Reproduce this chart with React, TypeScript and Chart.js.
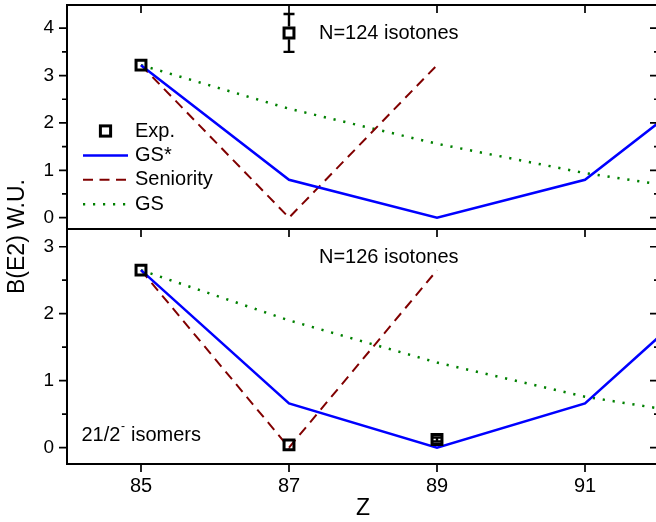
import React, { useEffect, useRef } from 'react';
import { Chart, registerables } from 'chart.js';

Chart.register(...registerables);

const FONT = '"Liberation Sans", Arial, Helvetica, sans-serif';

// ---------------- data ----------------
const X_MIN = 84;
const X_MAX = 92;
const X_TICKS = [85, 87, 89, 91];

const TOP_Y_MIN = -0.24;
const TOP_Y_MAX = 4.49;
const TOP_Y_TICKS = [0, 1, 2, 3, 4];
const TOP_Y_MINOR = [0.5, 1.5, 2.5, 3.5];

const BOT_Y_MIN = -0.245;
const BOT_Y_MAX = 3.265;
const BOT_Y_TICKS = [0, 1, 2, 3];
const BOT_Y_MINOR = [0.5, 1.5, 2.5];

const Z_MODEL = [85, 87, 89, 91, 93];
const Z_SENIORITY = [85, 87, 89];

// N=124 isotones
const N124_EXP_Z = [85, 87];
const N124_EXP = [3.22, 3.9];
const N124_EXP_ERR = [0, 0.4];
const N124_GS_STAR = [3.22, 0.8, 0.0, 0.8, 3.22];
const N124_SENIORITY = [3.22, 0.0, 3.22];
const N124_GS = [3.22, 2.3, 1.56, 0.94, 0.47];

// N=126 isotones
const N126_EXP_Z = [85, 87, 89];
const N126_EXP = [2.65, 0.04, 0.12];
const N126_EXP_ERR = [0, 0, 0.03];
const N126_GS_STAR = [2.65, 0.66, 0.0, 0.66, 2.65];
const N126_SENIORITY = [2.65, 0.0, 2.65];
const N126_GS = [2.65, 1.9, 1.27, 0.76, 0.41];

const LEGEND_LABELS = ['Exp.', 'GS*', 'Seniority', 'GS'];
const TOP_NOTE = 'N=124 isotones';
const BOT_NOTE = 'N=126 isotones';
const ISOMER_NOTE = ['21/2', '-', 'isomers'];
const Y_TITLE = 'B(E2) W.U.';
const X_TITLE = 'Z';

// ---------------- styles ----------------
const BLUE = '#0000ff';
const WINE = '#800000';
const GREEN = '#008000';
const LINE_STYLES = [
  { color: BLUE, width: 2.5, dash: [] as number[] },
  { color: WINE, width: 2, dash: [10, 6.5] },
  { color: GREEN, width: 2.5, dash: [2.2, 7.8] },
];

const CANVAS_W = 670;
const CANVAS_H = 522;
const SPLIT_Y = 229;

function pts(xs: number[], ys: number[]) {
  return xs.map((x, i) => ({ x, y: ys[i] }));
}

function makeDatasets(expZ: number[], exp: number[], gsStar: number[], sen: number[], gs: number[]) {
  const lines = [
    { label: 'GS*', data: pts(Z_MODEL, gsStar) },
    { label: 'Seniority', data: pts(Z_SENIORITY, sen) },
    { label: 'GS', data: pts(Z_MODEL, gs) },
  ].map((d, i) => ({
    ...d,
    showLine: true,
    borderColor: LINE_STYLES[i].color,
    borderWidth: LINE_STYLES[i].width,
    borderDash: LINE_STYLES[i].dash,
    borderCapStyle: 'butt',
    borderJoinStyle: 'miter',
    tension: 0,
    pointRadius: 0,
    pointHoverRadius: 0,
    order: i + 1,
  }));
  return [
    {
      label: 'Exp.',
      data: pts(expZ, exp),
      showLine: false,
      pointStyle: 'rect',
      pointRadius: 7,
      pointHoverRadius: 7,
      pointBorderWidth: 3,
      pointBorderColor: '#000',
      pointBackgroundColor: 'rgba(0,0,0,0)',
      order: 0,
    },
    ...lines,
  ];
}

function framePlugin(major: number[], minor: number[], topTicks: boolean, bottomOut: boolean) {
  return {
    id: 'frameTicks',
    afterDatasetsDraw(chart: any) {
      const { ctx, chartArea: a, scales } = chart;
      const xs = scales.x;
      const ys = scales.y;
      ctx.save();
      ctx.strokeStyle = '#000';
      ctx.lineWidth = 2;
      ctx.strokeRect(a.left, a.top, a.right - a.left, a.bottom - a.top);
      ctx.lineWidth = 1.7;
      ctx.beginPath();
      for (const v of major) {
        const p = ys.getPixelForValue(v);
        ctx.moveTo(a.left - 8, p);
        ctx.lineTo(a.left, p);
        ctx.moveTo(a.right, p);
        ctx.lineTo(a.right - 9, p);
      }
      for (const v of minor) {
        const p = ys.getPixelForValue(v);
        ctx.moveTo(a.left - 5, p);
        ctx.lineTo(a.left, p);
        ctx.moveTo(a.right, p);
        ctx.lineTo(a.right - 5, p);
      }
      for (const v of X_TICKS) {
        const p = xs.getPixelForValue(v);
        if (topTicks) {
          ctx.moveTo(p, a.top);
          ctx.lineTo(p, a.top + 8);
        }
        if (bottomOut) {
          ctx.moveTo(p, a.bottom);
          ctx.lineTo(p, a.bottom + 8);
        }
      }
      ctx.stroke();
      ctx.restore();
    },
  };
}

function errorBarPlugin(errs: number[]) {
  return {
    id: 'errorBars',
    afterDatasetsDraw(chart: any) {
      const meta = chart.getDatasetMeta(0);
      const ys = chart.scales.y;
      const data = chart.data.datasets[0].data as { x: number; y: number }[];
      const ctx = chart.ctx;
      const half = 6.4;
      const cap = 5.5;
      ctx.save();
      ctx.strokeStyle = '#000';
      ctx.lineWidth = 2.4;
      ctx.beginPath();
      meta.data.forEach((pt: any, i: number) => {
        const e = errs[i];
        if (!e) return;
        const v = data[i].y;
        const yHi = ys.getPixelForValue(v + e);
        const yLo = ys.getPixelForValue(v - e);
        const cx = pt.x;
        const cy = pt.y;
        if (yLo - yHi > 2 * half) {
          ctx.moveTo(cx, yHi);
          ctx.lineTo(cx, cy - half);
          ctx.moveTo(cx, cy + half);
          ctx.lineTo(cx, yLo);
        } else {
          ctx.moveTo(cx, yHi);
          ctx.lineTo(cx, yLo);
        }
        ctx.moveTo(cx - cap, yHi);
        ctx.lineTo(cx + cap, yHi);
        ctx.moveTo(cx - cap, yLo);
        ctx.lineTo(cx + cap, yLo);
      });
      ctx.stroke();
      ctx.restore();
    },
  };
}

const legendPlugin = {
  id: 'customLegend',
  afterDraw(chart: any) {
    const { ctx, chartArea: a } = chart;
    const x0 = a.left + 16;
    const x1 = a.left + 61;
    const tx = a.left + 68;
    const y0 = a.top + 126;
    const step = 24.4;
    ctx.save();
    ctx.font = `20px ${FONT}`;
    ctx.fillStyle = '#000';
    ctx.textAlign = 'left';
    ctx.textBaseline = 'middle';
    LEGEND_LABELS.forEach((label, i) => {
      const y = y0 + i * step;
      if (i === 0) {
        const mx = (x0 + x1) / 2;
        const s = 5.1;
        ctx.strokeStyle = '#000';
        ctx.lineWidth = 3;
        ctx.setLineDash([]);
        ctx.strokeRect(mx - s, y - s, 2 * s, 2 * s);
      } else {
        const st = LINE_STYLES[i - 1];
        ctx.strokeStyle = st.color;
        ctx.lineWidth = st.width;
        ctx.lineCap = 'butt';
        ctx.setLineDash(st.dash);
        ctx.beginPath();
        ctx.moveTo(x0, y);
        ctx.lineTo(x1, y);
        ctx.stroke();
        ctx.setLineDash([]);
      }
      ctx.fillText(label, tx, y);
    });
    ctx.restore();
  },
};

function notePlugin(text: string, dx: number, dy: number) {
  return {
    id: 'note',
    afterDraw(chart: any) {
      const { ctx, chartArea: a } = chart;
      ctx.save();
      ctx.font = `20px ${FONT}`;
      ctx.fillStyle = '#000';
      ctx.textAlign = 'left';
      ctx.textBaseline = 'middle';
      ctx.fillText(text, a.left + dx, a.top + dy);
      ctx.restore();
    },
  };
}

const isomerPlugin = {
  id: 'isomerNote',
  afterDraw(chart: any) {
    const { ctx, chartArea: a } = chart;
    const x = a.left + 14.5;
    const y = a.top + 206;
    ctx.save();
    ctx.fillStyle = '#000';
    ctx.textAlign = 'left';
    ctx.textBaseline = 'middle';
    ctx.font = `20px ${FONT}`;
    ctx.fillText(ISOMER_NOTE[0], x, y);
    const w1 = ctx.measureText(ISOMER_NOTE[0]).width;
    ctx.font = `12px ${FONT}`;
    ctx.fillText(ISOMER_NOTE[1], x + w1 + 0.5, y - 8);
    ctx.font = `20px ${FONT}`;
    ctx.fillText(ISOMER_NOTE[2], a.left + 64, y);
    ctx.restore();
  },
};

const yTitlePlugin = {
  id: 'yTitle',
  afterDraw(chart: any) {
    const { ctx, chartArea: a } = chart;
    ctx.save();
    ctx.translate(18, (5 + a.bottom) / 2 + 2);
    ctx.rotate(-Math.PI / 2);
    ctx.font = `23px ${FONT}`;
    ctx.fillStyle = '#000';
    ctx.textAlign = 'center';
    ctx.textBaseline = 'middle';
    ctx.fillText(Y_TITLE, 0, 0);
    ctx.restore();
  },
};

function yScale(min: number, max: number, ticks: number[]) {
  return {
    type: 'linear',
    min,
    max,
    afterFit: (s: any) => {
      s.width = 67;
      s.paddingTop = 0;
      s.paddingBottom = 0;
    },
    afterBuildTicks: (s: any) => {
      s.ticks = ticks.map((v) => ({ value: v }));
    },
    grid: { display: false, drawTicks: false },
    border: { display: false },
    ticks: { color: '#000', font: { family: FONT, size: 19 }, padding: 13 },
  };
}

export default function App() {
  const topRef = useRef<HTMLCanvasElement>(null);
  const botRef = useRef<HTMLCanvasElement>(null);

  useEffect(() => {
    const common = {
      responsive: false,
      animation: false,
      devicePixelRatio: 1,
      events: [],
      plugins: { legend: { display: false }, tooltip: { enabled: false } },
    };

    const top = new Chart(topRef.current as HTMLCanvasElement, {
      type: 'scatter',
      data: {
        datasets: makeDatasets(N124_EXP_Z, N124_EXP, N124_GS_STAR, N124_SENIORITY, N124_GS) as any,
      },
      options: {
        ...common,
        layout: { autoPadding: false, padding: { top: 5, bottom: CANVAS_H - SPLIT_Y, left: 0, right: 11 } },
        scales: {
          x: { type: 'linear', min: X_MIN, max: X_MAX, display: false },
          y: yScale(TOP_Y_MIN, TOP_Y_MAX, TOP_Y_TICKS),
        },
      } as any,
      plugins: [
        framePlugin(TOP_Y_TICKS, TOP_Y_MINOR, true, true),
        errorBarPlugin(N124_EXP_ERR),
        legendPlugin,
        notePlugin(TOP_NOTE, 252, 28),
      ],
    });

    const bot = new Chart(botRef.current as HTMLCanvasElement, {
      type: 'scatter',
      data: {
        datasets: makeDatasets(N126_EXP_Z, N126_EXP, N126_GS_STAR, N126_SENIORITY, N126_GS) as any,
      },
      options: {
        ...common,
        layout: { autoPadding: false, padding: { top: SPLIT_Y, bottom: 0, left: 0, right: 11 } },
        scales: {
          x: {
            type: 'linear',
            min: X_MIN,
            max: X_MAX,
            position: 'bottom',
            afterFit: (s: any) => {
              s.height = 58;
              s.paddingLeft = 0;
              s.paddingRight = 0;
            },
            afterBuildTicks: (s: any) => {
              s.ticks = X_TICKS.map((v) => ({ value: v }));
            },
            grid: { display: false, drawTicks: false },
            border: { display: false },
            ticks: {
              color: '#000',
              font: { family: FONT, size: 20 },
              padding: 10,
              autoSkip: false,
              maxRotation: 0,
              minRotation: 0,
            },
            title: {
              display: true,
              text: X_TITLE,
              color: '#000',
              font: { family: FONT, size: 23 },
              padding: { top: 0, bottom: 0 },
            },
          },
          y: yScale(BOT_Y_MIN, BOT_Y_MAX, BOT_Y_TICKS),
        },
      } as any,
      plugins: [
        framePlugin(BOT_Y_TICKS, BOT_Y_MINOR, false, true),
        errorBarPlugin(N126_EXP_ERR),
        notePlugin(BOT_NOTE, 252, 28),
        isomerPlugin,
        yTitlePlugin,
      ],
    });

    return () => {
      top.destroy();
      bot.destroy();
    };
  }, []);

  const canvasStyle: React.CSSProperties = {
    position: 'absolute',
    left: 0,
    top: 0,
    width: CANVAS_W,
    height: CANVAS_H,
    display: 'block',
  };

  return (
    <div
      style={{
        position: 'absolute',
        left: 0,
        top: 0,
        width: 656,
        height: 522,
        overflow: 'hidden',
        background: '#fff',
      }}
    >
      <canvas ref={topRef} width={CANVAS_W} height={CANVAS_H} style={canvasStyle} />
      <canvas ref={botRef} width={CANVAS_W} height={CANVAS_H} style={canvasStyle} />
    </div>
  );
}
